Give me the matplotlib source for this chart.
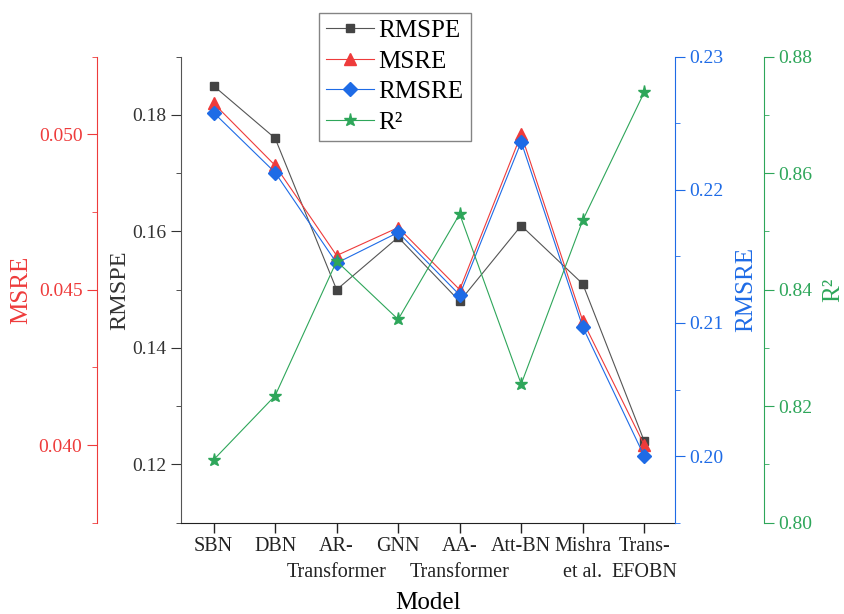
import matplotlib
matplotlib.use("Agg")
import matplotlib.pyplot as plt
from matplotlib.ticker import MultipleLocator, AutoMinorLocator

plt.rcParams['font.family'] = ['Liberation Serif', 'DejaVu Serif']

models = ['SBN', 'DBN', 'AR-\nTransformer', 'GNN', 'AA-\nTransformer', 'Att-BN',
          'Mishra\net al.', 'Trans-\nEFOBN']
rmspe = [0.185, 0.176, 0.150, 0.159, 0.148, 0.161, 0.151, 0.124]
msre = [0.0510, 0.0490, 0.0461, 0.0470, 0.0450, 0.0500, 0.0440, 0.0400]
rmsre = [0.2258, 0.2213, 0.2145, 0.2168, 0.2121, 0.2236, 0.2097, 0.2000]
r2 = [0.8108, 0.8218, 0.8449, 0.8349, 0.8530, 0.8238, 0.8519, 0.8739]

c_black = '#444444'
c_red = '#EE3B3B'
c_blue = '#1E6BE6'
c_green = '#2EA65A'

fig = plt.figure(figsize=(8.44, 6.14), dpi=100)
ax = fig.add_axes([181 / 844, 1 - 522.7 / 614, 494 / 844, 466 / 614])
x = list(range(len(models)))

ax_msre = ax.twinx()
ax_rmsre = ax.twinx()
ax_r2 = ax.twinx()

l1, = ax.plot(x, rmspe, color='#555555', lw=0.8, marker='s', ms=6,
              mfc=c_black, mec=c_black, label='RMSPE')
l2, = ax_msre.plot(x, msre, color=c_red, lw=0.8, marker='^', ms=8.5,
                   mfc=c_red, mec=c_red, label='MSRE')
l3, = ax_rmsre.plot(x, rmsre, color=c_blue, lw=0.8, marker='D', ms=7,
                    mfc=c_blue, mec=c_blue, label='RMSRE')
l4, = ax_r2.plot(x, r2, color=c_green, lw=0.8, marker='*', ms=9.5,
                 mfc=c_green, mec=c_green, label='R²')

ax.set_xlim(-0.53, 7.5)
ax.set_ylim(0.11, 0.19)
ax_msre.set_ylim(0.0375, 0.0525)
ax_rmsre.set_ylim(0.195, 0.23)
ax_r2.set_ylim(0.80, 0.88)

# two-line category labels: first line on major ticks, second on (invisible) minor ticks
first = [m.split('\n')[0] for m in models]
second = [m.split('\n')[1] if '\n' in m else '' for m in models]
ax.xaxis.remove_overlapping_locs = False
ax.set_xticks(x)
ax.set_xticklabels(first, fontsize=14.5)
ax.set_xticks(x, minor=True)
ax.set_xticklabels(second, minor=True, fontsize=14.5)
ax.tick_params(axis='x', which='major', direction='out', length=7, width=1,
               colors='#222222')
ax.tick_params(axis='x', which='minor', length=0, pad=29, colors='#222222')
ax.set_xlabel('Model', fontsize=18, labelpad=7)

# main left axis
ax.yaxis.set_major_locator(MultipleLocator(0.02))
ax.yaxis.set_minor_locator(AutoMinorLocator(2))
ax.tick_params(axis='y', which='major', direction='out', length=7, labelsize=14,
               colors='#333333')
ax.tick_params(axis='y', which='minor', direction='out', length=3.5, colors='#333333')
ax.set_ylabel('RMSPE', fontsize=17.5, color='#333333', labelpad=1)
ax.spines['left'].set_color('#555555')
ax.spines['bottom'].set_color('#222222')
ax.spines['top'].set_visible(False)
ax.spines['right'].set_visible(False)

# MSRE detached left axis
ax_msre.spines['left'].set_position(('axes', -0.17))
ax_msre.spines['left'].set_visible(True)
ax_msre.spines['left'].set_color(c_red)
ax_msre.yaxis.set_label_position('left')
ax_msre.yaxis.set_ticks_position('left')
ax_msre.yaxis.set_major_locator(MultipleLocator(0.005))
ax_msre.yaxis.set_minor_locator(AutoMinorLocator(2))
ax_msre.yaxis.set_major_formatter(plt.FormatStrFormatter('%.3f'))
ax_msre.tick_params(axis='y', which='major', direction='out', length=7, labelsize=14,
                    colors=c_red)
ax_msre.tick_params(axis='y', which='minor', direction='out', length=3.5, colors=c_red)
ax_msre.set_ylabel('MSRE', fontsize=18, color=c_red, labelpad=5)

# RMSRE right axis
ax_rmsre.spines['right'].set_color(c_blue)
ax_rmsre.yaxis.set_major_locator(MultipleLocator(0.01))
ax_rmsre.yaxis.set_minor_locator(AutoMinorLocator(2))
ax_rmsre.yaxis.set_major_formatter(plt.FormatStrFormatter('%.2f'))
ax_rmsre.tick_params(axis='y', which='major', direction='out', length=7, labelsize=14,
                     colors=c_blue)
ax_rmsre.tick_params(axis='y', which='minor', direction='out', length=3.5, colors=c_blue)
ax_rmsre.set_ylabel('RMSRE', fontsize=18, color=c_blue, labelpad=8)

# R2 detached right axis
ax_r2.spines['right'].set_position(('axes', 1.18))
ax_r2.spines['right'].set_color(c_green)
ax_r2.yaxis.set_major_locator(MultipleLocator(0.02))
ax_r2.yaxis.set_minor_locator(AutoMinorLocator(2))
ax_r2.yaxis.set_major_formatter(plt.FormatStrFormatter('%.2f'))
ax_r2.tick_params(axis='y', which='major', direction='out', length=7, labelsize=14,
                  colors=c_green)
ax_r2.tick_params(axis='y', which='minor', direction='out', length=3.5, colors=c_green)
ax_r2.set_ylabel('R²', fontsize=18, color=c_green, labelpad=7)

for a in (ax_msre, ax_rmsre, ax_r2):
    for s in ('top', 'bottom'):
        a.spines[s].set_visible(False)
ax_msre.spines['right'].set_visible(False)
ax_rmsre.spines['left'].set_visible(False)
ax_r2.spines['left'].set_visible(False)

leg = fig.legend(handles=[l1, l2, l3, l4], loc='upper left',
                 bbox_to_anchor=(319 / 844, 1 - 12.7 / 614), fontsize=18,
                 frameon=True, fancybox=False, edgecolor='#666666',
                 borderaxespad=0, handlelength=1.9, borderpad=0.28,
                 labelspacing=0.32, handletextpad=0.2)
leg.get_frame().set_linewidth(1.0)

fig.savefig('out.png', dpi=100)
